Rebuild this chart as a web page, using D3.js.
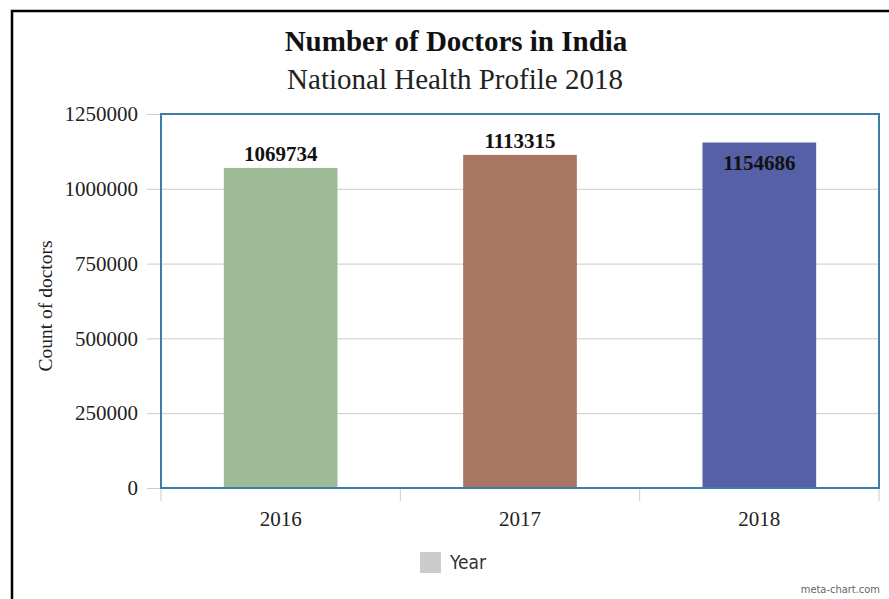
<!DOCTYPE html>
<html><head><meta charset="utf-8">
<script src="https://cdn.jsdelivr.net/npm/d3@7"></script>
<style>body{margin:0;background:#fff}</style>
</head><body>
<svg id="c" width="889" height="599"></svg>
<script>
const categories = ["2016", "2017", "2018"];
const values = [1069734, 1113315, 1154686];
const colors = ["#9dbb97", "#a97662", "#5560a6"];
const yTicks = [0, 250000, 500000, 750000, 1000000, 1250000];
const title = "Number of Doctors in India";
const subtitle = "National Health Profile 2018";
const yTitle = "Count of doctors";
const legendLabel = "Year";

const svg = d3.select("#c");
const serif = "'Liberation Serif','Times New Roman',serif";
const narrow = "'Liberation Sans Narrow','DejaVu Sans Condensed',sans-serif";
const m = {l:161, r:879, t:114, b:488};

// outer frame (top and left visible)
svg.append("rect").attr("x",12).attr("y",11).attr("width",900).attr("height",620)
  .attr("fill","none").attr("stroke","#000").attr("stroke-width",2.5);

svg.append("text").attr("x",456).attr("y",51).attr("text-anchor","middle")
  .attr("font-family",serif).attr("font-weight","bold").attr("font-size",29).attr("fill","#111").text(title);
svg.append("text").attr("x",455).attr("y",89).attr("text-anchor","middle")
  .attr("font-family",serif).attr("font-size",29).attr("fill","#222").text(subtitle);

const x = d3.scaleBand().domain(categories).range([m.l, m.r]).paddingInner(0.525).paddingOuter(0.2625);
const xOuter = d3.scaleBand().domain(categories).range([m.l, m.r]);
const y = d3.scaleLinear().domain([0,1250000]).range([m.b, m.t]);

// gridlines + y ticks
const ya = svg.append("g").attr("transform",`translate(${m.l},0)`)
  .call(d3.axisLeft(y).tickValues(yTicks).tickFormat(d=>d).tickSizeInner(-(m.r-m.l)));
ya.select(".domain").remove();
ya.selectAll(".tick line").attr("stroke","#ccc").attr("x1",-14);
ya.selectAll(".tick text").attr("font-family",serif).attr("font-size",21).attr("fill","#222").attr("x",-23);

// x axis separators
const seps = categories.map(c=>xOuter(c)).concat([m.r]);
svg.append("g").selectAll("line").data(seps).join("line")
  .attr("x1",d=>d).attr("x2",d=>d).attr("y1",m.b).attr("y2",m.b+13)
  .attr("stroke","#ccc");
svg.append("g").selectAll("text").data(categories).join("text")
  .attr("x",d=>xOuter(d)+xOuter.bandwidth()/2).attr("y",526).attr("text-anchor","middle")
  .attr("font-family",serif).attr("font-size",21).attr("fill","#222").text(d=>d);

// bars
svg.append("g").selectAll("rect").data(values).join("rect")
  .attr("x",(d,i)=>x(categories[i])).attr("width",x.bandwidth())
  .attr("y",d=>y(d)).attr("height",d=>m.b-y(d)).attr("fill",(d,i)=>colors[i]);

// value labels (inside the bar when there is no room above)
svg.append("g").selectAll("text").data(values).join("text")
  .attr("x",(d,i)=>x(categories[i])+x.bandwidth()/2)
  .attr("y",d=> (y(d)-32 < m.t) ? y(d)+27 : y(d)-7)
  .attr("text-anchor","middle").attr("font-family",serif).attr("font-weight","bold")
  .attr("font-size",21).attr("fill","#111").text(d=>d);

// plot border
svg.append("rect").attr("x",m.l).attr("y",m.t).attr("width",m.r-m.l).attr("height",m.b-m.t)
  .attr("fill","none").attr("stroke","#3b7ea6").attr("stroke-width",2);

// y title
svg.append("text").attr("transform","translate(52,306) rotate(-90)").attr("text-anchor","middle")
  .attr("font-family",serif).attr("font-size",19.5).attr("fill","#222").text(yTitle);

// legend
svg.append("rect").attr("x",420).attr("y",552).attr("width",21).attr("height",21).attr("fill","#cccccc");
svg.append("text").attr("x",450).attr("y",569).attr("font-family",narrow)
  .attr("font-size",19).attr("fill","#333").text(legendLabel);

svg.append("text").attr("x",880).attr("y",593).attr("text-anchor","end")
  .attr("font-family",narrow).attr("font-size",11).attr("fill","#666").text("meta-chart.com");
</script>
</body></html>
